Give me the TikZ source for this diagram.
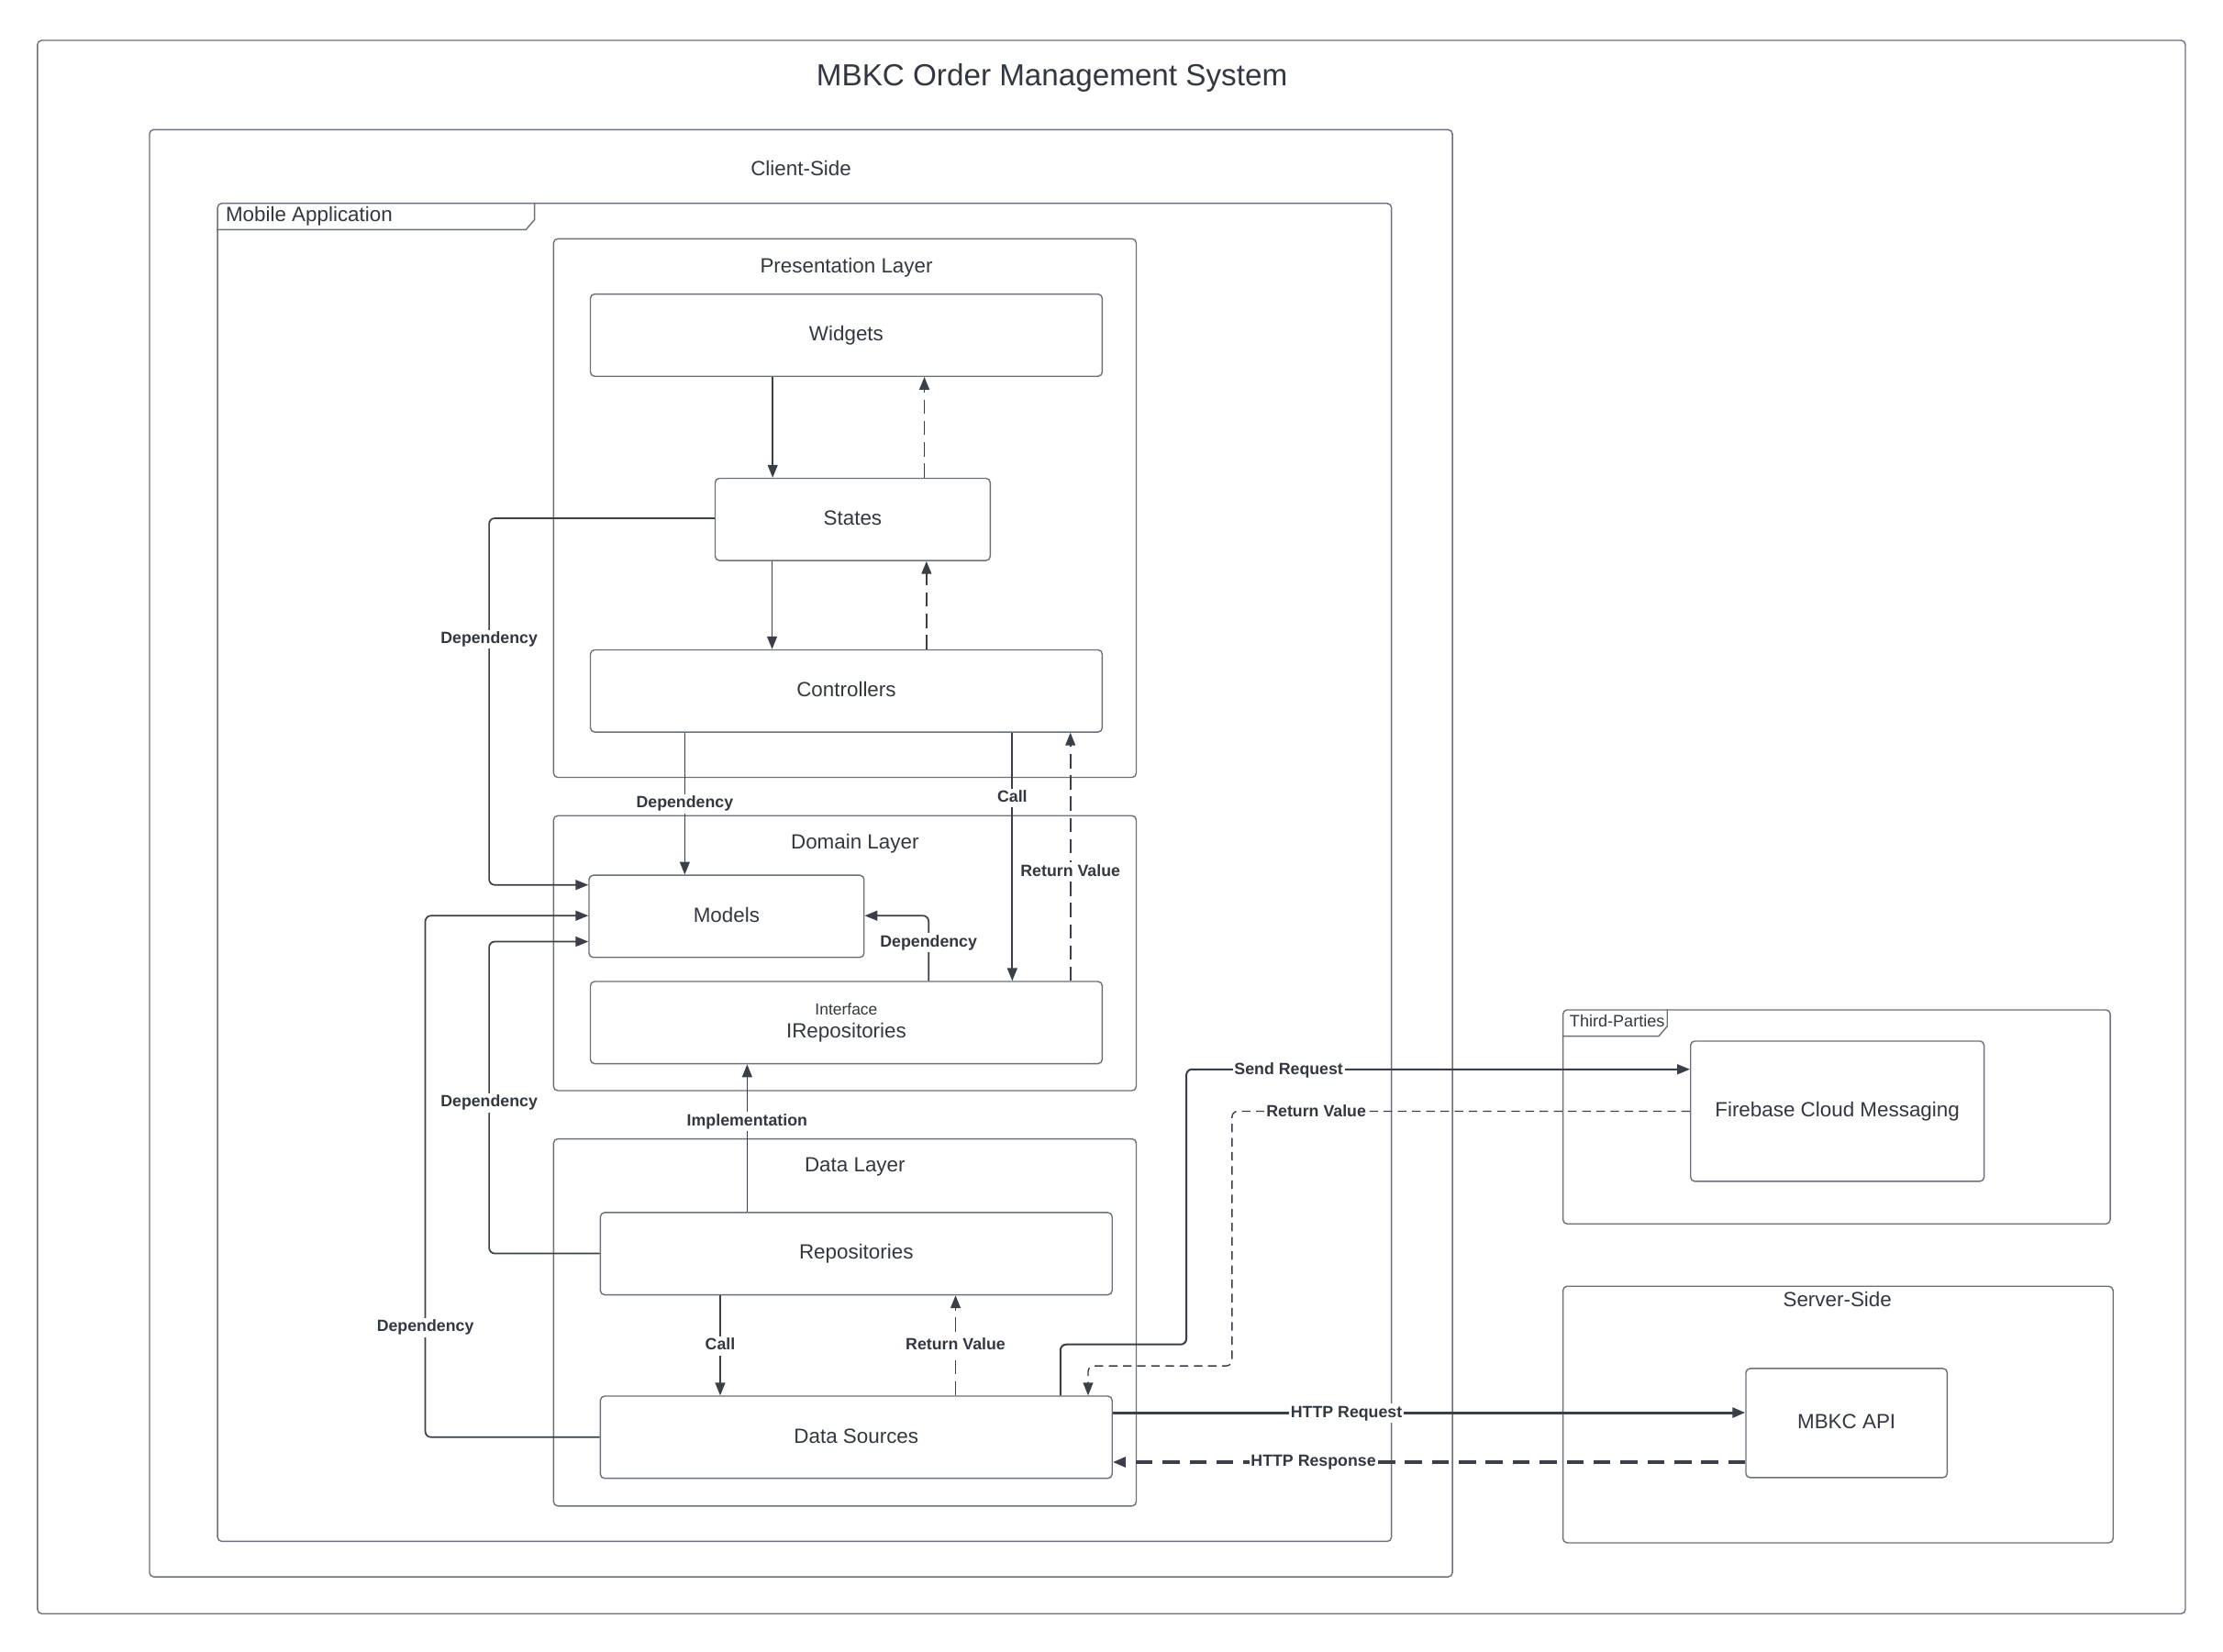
\documentclass[tikz,border=0pt]{standalone}
\usepackage{fontspec}
\setmainfont{Liberation Sans}
\usetikzlibrary{arrows.meta,calc}
\definecolor{boxc}{HTML}{6B7079}
\definecolor{linec}{HTML}{3A3F48}
\definecolor{txtc}{HTML}{333840}
\tikzset{
  box/.style={draw=boxc, line width=0.9pt, rounded corners=3pt, anchor=north west, inner sep=0pt},
  itemml/.style={box, font=\fontsize{14.5}{17}\selectfont, text=txtc, align=center},
  item/.style={itemml, text height=11pt, text depth=3pt},
  ttl/.style={font=\fontsize{14.5}{17}\selectfont, text=txtc, inner sep=0pt, text height=10.5pt, text depth=3pt, yshift=-2pt},
  tabtxt/.style={font=\fontsize{11.7}{13}\selectfont, text=txtc, inner sep=0pt, anchor=west, text height=8.6pt, text depth=2.5pt, yshift=-1pt},
  lbl/.style={font=\fontsize{11.5}{13}\selectfont\bfseries, text=txtc, fill=white, inner sep=1.2pt, text height=8.6pt, text depth=2.5pt, yshift=-2pt},
  conn/.style={draw=linec, line width=1.1pt, -{Triangle[length=9pt,width=7pt]}, rounded corners=4pt},
  dconn/.style={conn, dash pattern=on 10pt off 5pt},
}
\begin{document}
\begin{tikzpicture}[x=1pt,y=-1pt]
\useasboundingbox (0,0) rectangle (1568,1165);
\fill[white] (0,0) rectangle (1568,1165);

% containers
\node[box, minimum width=1515pt, minimum height=1110pt] (outer) at (26,28) {};
\node[font=\fontsize{21.5}{25}\selectfont, text=txtc, inner sep=0pt, yshift=-2pt] (title) at (742,53) {MBKC Order Management System};
\node[box, minimum width=919pt, minimum height=1021pt] (client) at (105,91) {};
\node[ttl] (clientlbl) at (565,118) {Client-Side};
\node[box, minimum width=828pt, minimum height=944pt] (mobile) at (153,143) {};
\draw[boxc, line width=0.9pt] (153,162) -- (371,162) -- (377,155) -- (377,143);
\node[ttl, anchor=west] (mobilelbl) at (159,150.5) {Mobile Application};

\node[box, minimum width=411pt, minimum height=380pt] (pres) at (390,168) {};
\node[ttl] (preslbl) at (597,187) {Presentation Layer};
\node[box, minimum width=411pt, minimum height=194pt] (dom) at (390,575) {};
\node[ttl] (domlbl) at (603,593) {Domain Layer};
\node[box, minimum width=411pt, minimum height=259pt] (data) at (390,803) {};
\node[ttl] (datalbl) at (603,821) {Data Layer};

\node[box, minimum width=386pt, minimum height=151pt] (third) at (1102,712) {};
\draw[boxc, line width=0.9pt] (1102,731) -- (1170,731) -- (1176,724) -- (1176,712);
\node[tabtxt] (thirdlbl) at (1107,720.5) {Third-Parties};
\node[box, minimum width=388pt, minimum height=181pt] (server) at (1102,907) {};
\node[ttl] (serverlbl) at (1296,916) {Server-Side};

% items
\node[item, minimum width=361pt, minimum height=58pt] (widgets) at (416,207) {Widgets};
\node[item, minimum width=194pt, minimum height=58pt] (states) at (504,337) {States};
\node[item, minimum width=361pt, minimum height=58pt] (controllers) at (416,458) {Controllers};
\node[item, minimum width=194pt, minimum height=58pt] (models) at (415,617) {Models};
\node[itemml, minimum width=361pt, minimum height=58pt] (irepo) at (416,692) {{\fontsize{11.3}{13}\selectfont Interface}\\[-0.5pt]IRepositories};
\node[item, minimum width=361pt, minimum height=58pt] (repos) at (423,855) {Repositories};
\node[item, minimum width=361pt, minimum height=58pt] (dsrc) at (423,984.5) {Data Sources};
\node[item, minimum width=207pt, minimum height=99pt] (fcm) at (1192,734) {Firebase Cloud Messaging};
\node[item, minimum width=142pt, minimum height=77pt] (api) at (1231,965) {MBKC API};

% helper coordinates
\coordinate (xa) at (545,0);
\coordinate (xb) at (652,0);
\coordinate (xc) at (544.6,0);
\coordinate (xd) at (653.5,0);
\coordinate (xe) at (483,0);
\coordinate (xf) at (714,0);
\coordinate (xg) at (755,0);
\coordinate (xh) at (655,0);
\coordinate (xi) at (527,0);
\coordinate (xj) at (508,0);
\coordinate (xk) at (674,0);
\coordinate (xl) at (748,0);
\coordinate (xm) at (767.5,0);
\coordinate (ya) at (0,365.6);
\coordinate (yb) at (0,624.3);
\coordinate (yc) at (0,646);
\coordinate (yd) at (0,664.3);
\coordinate (ye) at (0,884.3);
\coordinate (yf) at (0,1013.9);
\coordinate (yg) at (0,754.4);
\coordinate (yh) at (0,784);
\coordinate (yi) at (0,996.6);
\coordinate (yj) at (0,1031.5);
\coordinate (b1) at (345,365.6);
\coordinate (b2) at (345,624.3);
\coordinate (b3) at (655,646);
\coordinate (b4) at (345,884.3);
\coordinate (b5) at (345,664.3);
\coordinate (b6) at (300,1013.9);
\coordinate (b7) at (300,646);
\coordinate (b8) at (748,948.5);
\coordinate (b9) at (836.8,948.5);
\coordinate (b10) at (836.8,754.4);
\coordinate (b11) at (869,784);
\coordinate (b12) at (869,963.6);
\coordinate (b13) at (767.5,963.6);

% presentation connectors
\draw[conn] (widgets.south -| xa) -- (states.north -| xa);
\draw[dconn] (states.north -| xb) -- (widgets.south -| xb);
\draw[conn] (states.south -| xc) -- (controllers.north -| xc);
\draw[dconn] (controllers.north -| xd) -- (states.south -| xd);

% dependency connectors
\draw[conn] (states.west |- ya) -- (b1) -- (b2) -- (models.west |- yb);
\draw[conn] (controllers.south -| xe) -- (models.north -| xe);
\draw[conn] (controllers.south -| xf) -- (irepo.north -| xf);
\draw[dconn] (irepo.north -| xg) -- (controllers.south -| xg);
\draw[conn] (irepo.north -| xh) -- (b3) -- (models.east |- yc);
\draw[conn] (repos.north -| xi) -- (irepo.south -| xi);
\draw[conn] (repos.west |- ye) -- (b4) -- (b5) -- (models.west |- yd);
\draw[conn] (dsrc.west |- yf) -- (b6) -- (b7) -- (models.west |- yc);
\draw[conn] (repos.south -| xj) -- (dsrc.north -| xj);
\draw[dconn] (dsrc.north -| xk) -- (repos.south -| xk);

% external connectors
\draw[conn, line width=1.3pt] (dsrc.north -| xl) -- (b8) -- (b9) -- (b10) -- (fcm.west |- yg);
\draw[conn, line width=0.9pt, dash pattern=on 6pt off 4pt] (fcm.west |- yh) -- (b11) -- (b12) -- (b13) -- (dsrc.north -| xm);
\draw[conn, line width=2pt] (dsrc.east |- yi) -- (api.west |- yi);
\draw[conn, line width=2pt, dash pattern=on 12pt off 7pt] (api.west |- yj) -- (dsrc.east |- yj);

% labels
\node[lbl] (l1) at (345,449) {Dependency};
\node[lbl] (l2) at (483,565) {Dependency};
\node[lbl] (l3) at (714,561) {Call};
\node[lbl] (l4) at (755,613) {Return Value};
\node[lbl] (l5) at (655,663) {Dependency};
\node[lbl] (l6) at (527,789) {Implementation};
\node[lbl] (l7) at (345,776) {Dependency};
\node[lbl] (l8) at (300,934.5) {Dependency};
\node[lbl] (l9) at (508,947.4) {Call};
\node[lbl] (l10) at (674,947.4) {Return Value};
\node[lbl] (l11) at (909,753) {Send Request};
\node[lbl] (l12) at (928.4,783) {Return Value};
\node[lbl] (l13) at (949.7,995) {HTTP Request};
\node[lbl] (l14) at (926.4,1029.6) {HTTP Response};
\end{tikzpicture}
\end{document}
